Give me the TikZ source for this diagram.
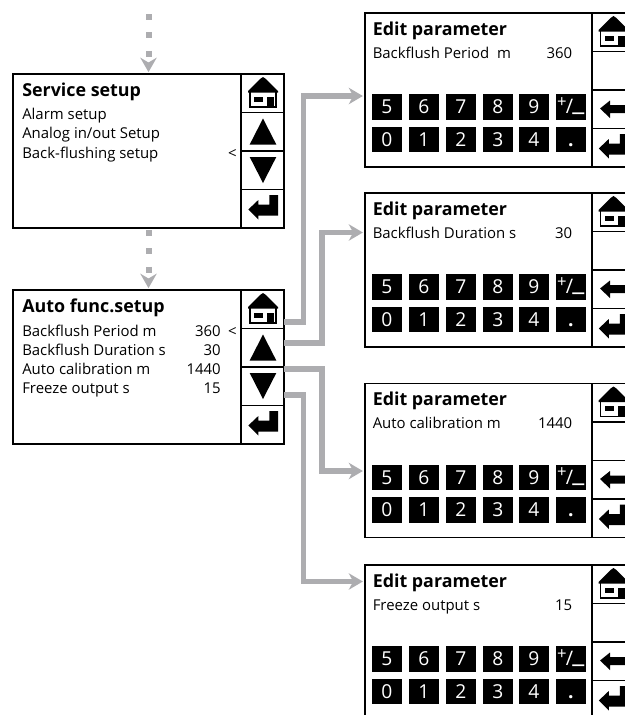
\documentclass[tikz,border=0pt]{standalone}
\usepackage{fontspec}
\setmainfont{Open Sans}
\usetikzlibrary{arrows.meta}
\definecolor{conncol}{HTML}{ADADB0}
\tikzset{
  panelbox/.style={draw=black,line width=1.1pt,fill=white,rectangle,anchor=north west,inner sep=0pt,outer sep=0pt},
  btn/.style={panelbox,minimum width=43*0.75pt,minimum height=38.5*0.75pt},
  ttl/.style={anchor=base west,inner sep=0pt,font=\fontsize{13.4}{15}\selectfont\bfseries},
  lbl/.style={anchor=base west,inner sep=0pt,font=\fontsize{11.2}{13}\selectfont},
  val/.style={anchor=base east,inner sep=0pt,font=\fontsize{11.2}{13}\selectfont},
  keybox/.style={rectangle,fill=black,text=white,inner sep=0pt,outer sep=0pt,anchor=north west,
     minimum width=29.5*0.75pt,minimum height=25.5*0.75pt,text height=10.2pt,text depth=0pt,
     font=\fontsize{14.4}{16}\selectfont},
  conn/.style={draw=conncol,line width=3.9pt,line join=miter,
     -{Stealth[length=10.5pt,width=12.2pt,inset=3.2pt,fill=conncol]},shorten >=1.6pt},
  dotconn/.style={draw=conncol,line width=4.5pt,dash pattern=on 4.5pt off 9.3pt,
     -{Stealth[length=10.8pt,width=12.2pt,inset=3.6pt,fill=conncol]},shorten >=1.4pt},
  icon/.style={fill=black,draw=none},
  iconline/.style={draw=black,fill=white,line width=1.1pt}
}
\newcommand\homeicon[2]{\begin{scope}[shift={(#1,#2)}]
  \draw[iconline] (-13.2,17) rectangle (13.2,33);
  \fill[icon] (0,3) -- (3,5) -- (15,17) -- (15,18.5) -- (-15,18.5) -- (-15,17) -- (-3,5) -- cycle;
  \fill[icon] (-9,22.7) rectangle (0.3,27.5);
  \fill[icon] (4.3,22.7) rectangle (11,33);
\end{scope}}
\newcommand\upicon[2]{\fill[icon,shift={(#1,#2)}] (0,6) -- (13.3,32) -- (-13.3,32) -- cycle;}
\newcommand\downicon[2]{\fill[icon,shift={(#1,#2)}] (0,32) -- (13.3,6) -- (-13.3,6) -- cycle;}
\newcommand\entericon[2]{\fill[icon,shift={(#1,#2)}] (-14.7,20) -- (-4.7,10.5) -- (-4.7,15) -- (6.3,15) -- (6.3,5.5) -- (15,5.5) -- (15,26) -- (-4.7,26) -- (-4.7,30) -- cycle;}
\newcommand\lefticon[2]{\fill[icon,shift={(#1,#2)}] (-13.5,18.5) -- (-3.5,10.5) -- (-3.5,15) -- (20,15) -- (20,23) -- (-3.5,23) -- (-3.5,28) -- cycle;}
\newcommand\sidebuttons[3]{%
  \node[btn] (#1a) at (#2,#3) {};
  \node[btn] (#1b) at (#2,#3+38.5) {};
  \node[btn] (#1c) at (#2,#3+77) {};
  \node[btn] (#1d) at (#2,#3+115.5) {};
}
\newcommand\editpanel[4]{% name, top, label, value
  \node[panelbox,minimum width=227*0.75pt,minimum height=154*0.75pt] (#1) at (365,#2) {};
  \sidebuttons{#1}{592}{#2}
  \homeicon{613.5}{#2}
  \lefticon{613.5}{#2+77}
  \entericon{613.5}{#2+115.5}
  \node[ttl] (#1t) at (372.5,#2+22) {Edit parameter};
  \node[lbl] (#1l) at (372.5,#2+45) {#3};
  \node[val] (#1v) at (572.5,#2+45) {#4};
  \foreach \kx/\kt/\kn in {372/5/p,409/6/q,446/7/r,483/8/s,519/9/t}
    \node[keybox] (#1k\kn) at (\kx,#2+81) {\kt};
  \node[keybox] (#1kpm) at (556,#2+81) {\raisebox{4.6pt}{\fontsize{12.5}{14}\selectfont +}\kern-0.6pt{\fontsize{15}{16}\selectfont /}\kern-0.6pt\raisebox{2pt}{\fontsize{20}{20}\selectfont\_}};
  \foreach \kx/\kt/\kn in {372/0/u,409/1/v,446/2/w,483/3/x,519/4/y}
    \node[keybox] (#1k\kn) at (\kx,#2+113.5) {\kt};
  \node[keybox] (#1kdot) at (556,#2+113.5) {\textbf{.}};
}
\begin{document}
\begin{tikzpicture}[x=0.75pt,y=-0.75pt]
\clip (0,0) rectangle (625,715);
\fill[white] (0,0) rectangle (625,715);
% left panels
\node[panelbox,minimum width=228*0.75pt,minimum height=154*0.75pt] (sv) at (13,74) {};
\sidebuttons{svb}{241}{74}
\node[panelbox,minimum width=228*0.75pt,minimum height=154*0.75pt] (au) at (13,290) {};
\sidebuttons{aub}{241}{290}
\homeicon{263}{74}\upicon{263}{112.5}\downicon{263}{151}\entericon{263}{189.5}
\homeicon{263}{290}\upicon{263}{328.5}\downicon{263}{367}\entericon{263}{405.5}
\node[ttl] (svt) at (22,96.5) {Service setup};
\node[lbl] (sv1) at (22,119) {Alarm setup};
\node[lbl] (sv2) at (22,138.5) {Analog in/out Setup};
\node[lbl] (sv3) at (22,158) {Back-flushing setup};
\node[val] (svm) at (237,158) {<};
\node[ttl] (aut) at (22,312) {Auto func.setup};
\node[lbl] (au1) at (22,336) {Backflush Period m};
\node[lbl] (au2) at (22,355) {Backflush Duration s};
\node[lbl] (au3) at (22,374.5) {Auto calibration m};
\node[lbl] (au4) at (22,393.5) {Freeze output s};
\node[val] (auv1) at (221,336) {360};
\node[val] (auv2) at (221,355) {30};
\node[val] (auv3) at (221,374.5) {1440};
\node[val] (auv4) at (221,393.5) {15};
\node[val] (aum) at (237,336) {<};
% right panels
\editpanel{ea}{13}{Backflush Period\ \ m}{360}
\editpanel{eb}{193}{Backflush Duration s}{30}
\editpanel{ec}{383.5}{Auto calibration m}{1440}
\editpanel{ed}{565}{Freeze output s}{15}
% connectors
\coordinate (topstart) at (148.5,14);
\draw[dotconn] (topstart) -- (sv.north -| topstart);
\draw[dotconn,shorten <=1.5pt] (sv.south -| topstart) -- (au.north -| topstart);
\draw[conn] (auba.east |- 0,322) -- (303.5,322) -- (303.5,96) -- (ea.west |- 0,96);
\draw[conn] (aubb.east |- 0,343) -- (322,343) -- (322,232.5) -- (eb.west |- 0,232.5);
\draw[conn] (aubc.east |- 0,369) -- (322,369) -- (322,471) -- (ec.west |- 0,471);
\draw[conn] (aubc.east |- 0,395) -- (303.5,395) -- (303.5,581.5) -- (ed.west |- 0,581.5);
\end{tikzpicture}
\end{document}
